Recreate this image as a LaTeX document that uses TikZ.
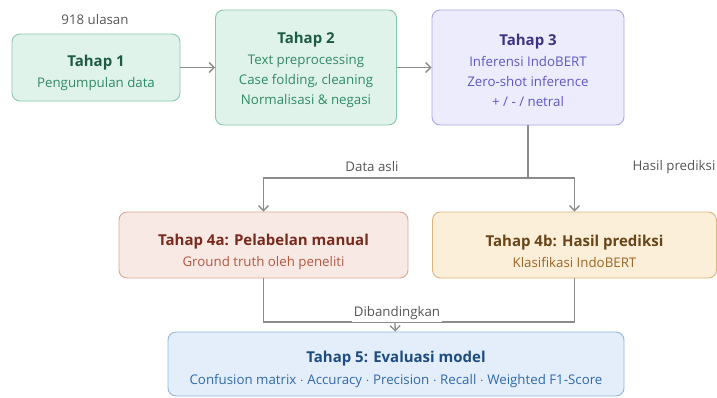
\documentclass[tikz,border=0pt]{standalone}
\usepackage{fontspec}
\setmainfont{Open Sans}
\usetikzlibrary{arrows.meta}
\usetikzlibrary{positioning}
\definecolor{GreenFill}{HTML}{E0F3EB}
\definecolor{GreenLine}{HTML}{86C8AB}
\definecolor{GreenHead}{HTML}{1D5C43}
\definecolor{GreenText}{HTML}{2F8A66}
\definecolor{PurpleFill}{HTML}{EDECFC}
\definecolor{PurpleLine}{HTML}{AAA5EC}
\definecolor{PurpleHead}{HTML}{3C3483}
\definecolor{PurpleText}{HTML}{5F57C6}
\definecolor{RedFill}{HTML}{F9E9E5}
\definecolor{RedLine}{HTML}{DCA595}
\definecolor{RedHead}{HTML}{782B1C}
\definecolor{RedText}{HTML}{B05840}
\definecolor{SandFill}{HTML}{FBEFDA}
\definecolor{SandLine}{HTML}{DAB57C}
\definecolor{SandHead}{HTML}{694416}
\definecolor{SandText}{HTML}{9A6522}
\definecolor{BlueFill}{HTML}{E4EEFA}
\definecolor{BlueLine}{HTML}{92B6E0}
\definecolor{BlueHead}{HTML}{1E4C7E}
\definecolor{BlueText}{HTML}{2F69AB}
\definecolor{LinkGray}{HTML}{8C8C8C}
\definecolor{NoteGray}{HTML}{555555}

\newcommand{\headfont}{\fontsize{15}{21}\selectfont\bfseries}
\newcommand{\bodyfont}{\fontsize{13.3}{20}\selectfont}
% stage title; #2 is a strut height that pushes the block down
\newcommand{\stagehead}[3]{{\headfont\color{#1}\rule{0pt}{#2}#3}}

\begin{document}
\begin{tikzpicture}[x=1pt, y=-1pt,
  stage/.style={rounded corners=8pt, line width=0.9pt, align=center,
    inner sep=0pt, font=\bodyfont},
  link/.style={LinkGray, line width=1.3pt},
  conn/.style={link, -{Straight Barb[length=5pt,width=10pt]}},
  note/.style={NoteGray, font=\bodyfont, inner sep=1pt}]
  \useasboundingbox (0,0) rectangle (717,397);

  % stages
  \node[stage, fill=GreenFill, draw=GreenLine, minimum width=168pt,
    minimum height=67pt, text=GreenText] (t1) at (96,67.5)
    {\stagehead{GreenHead}{23pt}{Tahap 1}\\[1pt]Pengumpulan data};
  \node[stage, fill=GreenFill, draw=GreenLine, minimum width=181pt,
    minimum height=115pt, text=GreenText] (t2) at (306,67.5)
    {\stagehead{GreenHead}{17pt}{Tahap 2}\\[1pt]Text preprocessing\\
     Case folding, cleaning\\Normalisasi \& negasi};
  \node[stage, fill=PurpleFill, draw=PurpleLine, minimum width=192pt,
    minimum height=115pt, text=PurpleText] (t3) at (528,67.5)
    {\stagehead{PurpleHead}{17pt}{Tahap 3}\\[1pt]Inferensi IndoBERT\\
     Zero-shot inference\\+ / - / netral};
  \node[stage, fill=RedFill, draw=RedLine, minimum width=289pt,
    minimum height=66pt, text=RedText] (t4a) at (263.5,245)
    {\stagehead{RedHead}{25pt}{Tahap 4a: Pelabelan manual}\\[1pt]Ground truth oleh peneliti};
  \node[stage, fill=SandFill, draw=SandLine, minimum width=284pt,
    minimum height=66pt, text=SandText] (t4b) at (574.5,245)
    {\stagehead{SandHead}{25pt}{Tahap 4b: Hasil prediksi}\\[1pt]Klasifikasi IndoBERT};
  \node[stage, fill=BlueFill, draw=BlueLine, minimum width=456pt,
    minimum height=64pt, text=BlueText] (t5) at (396,364)
    {\stagehead{BlueHead}{22pt}{Tahap 5: Evaluasi model}\\[2pt]
     Confusion matrix $\cdot$ Accuracy $\cdot$ Precision $\cdot$ Recall $\cdot$ Weighted F1-Score};

  \coordinate (split) at (528,178);
  \coordinate (merge) at (395,322);

  % flow
  \draw[conn] (t1) -- (t2);
  \draw[conn] (t2) -- (t3);
  \draw[link] (t3) -- (split);
  \draw[conn] (split) -| (t4a.north);
  \draw[conn] (split) -| (t4b.north);
  \draw[link] (t4a.south) |- (merge);
  \draw[link] (t4b.south) |- (merge);

  % notes
  \node[note] (n1) at (95,20) {918 ulasan};
  \node[note] (n2) at (372,167) {Data asli};
  \node[note] (n3) at (674,167) {Hasil prediksi};
  \node[note, fill=white, inner sep=2pt] (n4) at (397,313) {Dibandingkan};
  \draw[conn] (merge) -- (t5);
\end{tikzpicture}
\end{document}
